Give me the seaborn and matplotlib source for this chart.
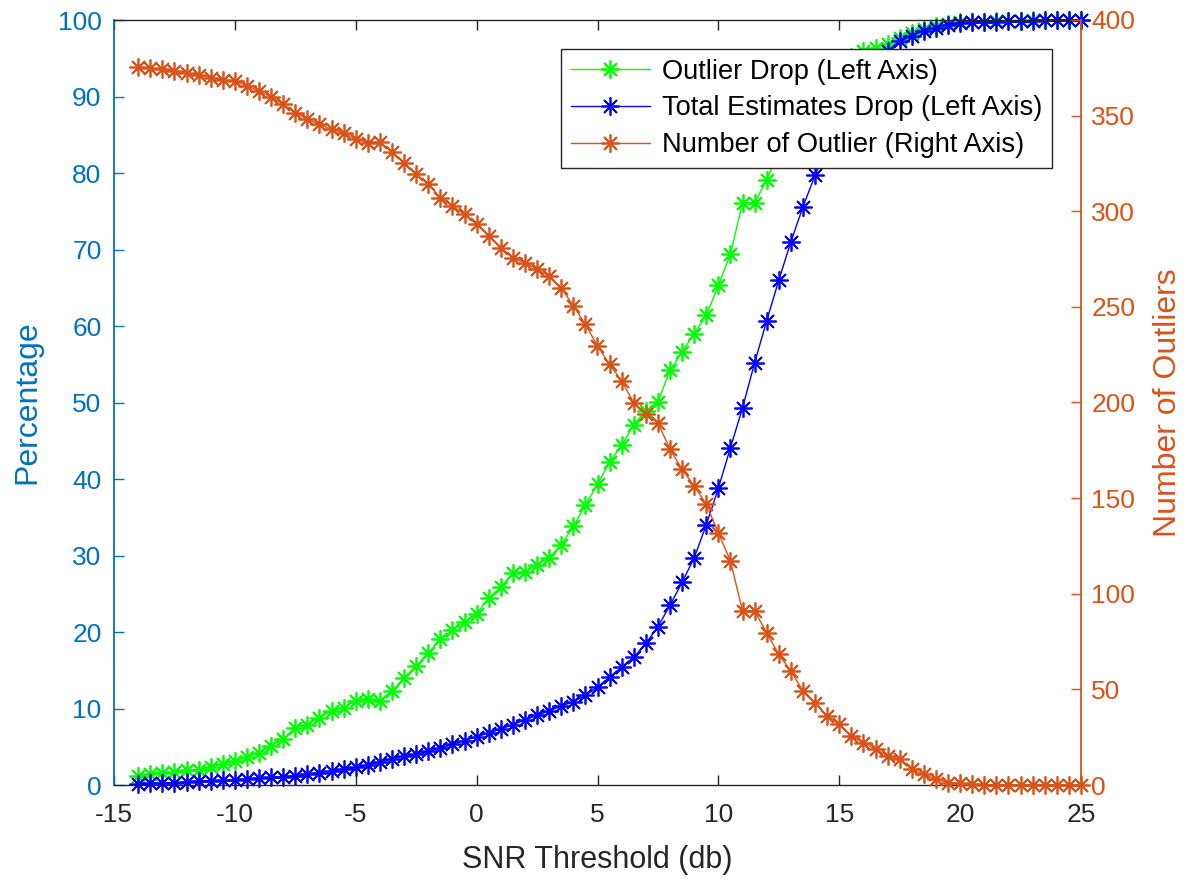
import matplotlib
matplotlib.use("Agg")
import matplotlib.pyplot as plt
import pandas as pd
import seaborn as sns

# ---------------- data ----------------
snr = [-14, -13.5, -13, -12.5, -12, -11.5, -11, -10.5, -10, -9.5,
       -9, -8.5, -8, -7.5, -7, -6.5, -6, -5.5, -5, -4.5,
       -4, -3.5, -3, -2.5, -2, -1.5, -1, -0.5, 0, 0.5,
       1, 1.5, 2, 2.5, 3, 3.5, 4, 4.5, 5, 5.5,
       6, 6.5, 7, 7.5, 8, 8.5, 9, 9.5, 10, 10.5,
       11, 11.5, 12, 12.5, 13, 13.5, 14, 14.5, 15, 15.5,
       16, 16.5, 17, 17.5, 18, 18.5, 19, 19.5, 20, 20.5,
       21, 21.5, 22, 22.5, 23, 23.5, 24, 24.5, 25]

outlier_drop = [1.2, 1.5, 1.6, 1.7, 1.9, 2.0, 2.4, 2.7, 3.1, 3.7,
                4.2, 5.1, 6.0, 7.5, 7.9, 8.8, 9.7, 10.1, 11.0, 11.3,
                11.0, 12.3, 14.0, 15.6, 17.2, 19.1, 20.2, 21.3, 22.4, 24.4,
                25.9, 27.7, 27.9, 28.8, 29.7, 31.4, 33.8, 36.6, 39.3, 42.2,
                44.4, 47.1, 48.9, 50.1, 54.2, 56.6, 59.0, 61.4, 65.3, 69.4,
                76.1, 76.1, 79.1, 83.0, 86.5, 89.5, 91.5, 93.0, 94.2, 95.2,
                95.9, 96.4, 96.9, 97.6, 98.3, 98.8, 99.2, 99.5, 99.7, 99.8,
                99.8, 99.9, 99.9, 99.9, 100.0, 100.0, 100.0, 100.0, 100.0]

total_drop = [0.1, 0.2, 0.2, 0.3, 0.4, 0.5, 0.5, 0.6, 0.7, 0.8,
              0.9, 1.0, 1.1, 1.2, 1.4, 1.6, 1.8, 2.1, 2.3, 2.6,
              3.0, 3.4, 3.8, 4.0, 4.4, 4.8, 5.3, 5.8, 6.3, 6.8,
              7.3, 7.9, 8.5, 9.1, 9.7, 10.3, 10.9, 11.7, 12.8, 14.1,
              15.4, 16.7, 18.5, 20.7, 23.5, 26.5, 29.7, 34.0, 38.8, 44.1,
              49.3, 55.2, 60.7, 66.0, 71.0, 75.6, 79.7, 83.5, 87.0, 90.0,
              92.5, 94.5, 96.0, 97.2, 97.9, 98.6, 99.0, 99.4, 99.6, 99.7,
              99.8, 99.8, 99.9, 99.9, 99.9, 100.0, 100.0, 100.0, 100.0]

num_outliers = [375.4, 374.7, 374.2, 373.3, 372.1, 371.0, 369.8, 368.6, 368.1, 365.5,
                362.9, 359.7, 355.9, 351.5, 348.1, 345.4, 342.8, 341.1, 337.6, 335.8,
                336.2, 331.0, 325.4, 319.3, 314.1, 307.1, 302.7, 298.4, 293.2, 287.1,
                280.9, 275.7, 273.1, 269.6, 266.1, 260.0, 250.5, 240.9, 229.5, 220.0,
                211.2, 199.9, 193.8, 189.4, 175.5, 165.1, 156.3, 146.8, 131.9, 117.1,
                91.0, 91.0, 79.6, 68.3, 59.6, 49.2, 43.0, 36.1, 31.7, 25.6,
                22.1, 18.7, 15.2, 13.4, 8.2, 5.6, 3.0, 1.2, 0.8, 0.4,
                0.2, 0.0, 0.0, 0.0, 0.0, 0.0, 0.0, 0.0, 0.0]

series_labels = ["Outlier Drop (Left Axis)",
                 "Total Estimates Drop (Left Axis)",
                 "Number of Outlier (Right Axis)"]
x_ticks = [-15, -10, -5, 0, 5, 10, 15, 20, 25]
left_ticks = [0, 10, 20, 30, 40, 50, 60, 70, 80, 90, 100]
right_ticks = [0, 50, 100, 150, 200, 250, 300, 350, 400]

# ---------------- style ----------------
sns.set_style("white")
plt.rcParams["font.family"] = ["Liberation Sans", "DejaVu Sans"]
plt.rcParams["axes.unicode_minus"] = False

C_GREEN = "#00FF00"
C_BLUE = "#0000FF"
C_LEFT = "#0072BD"
C_RIGHT = "#D95319"
C_AX = "#262626"

df = pd.DataFrame({"snr": snr, "outlier_drop": outlier_drop,
                   "total_drop": total_drop, "num_outliers": num_outliers})

fig = plt.figure(figsize=(11.96, 8.8), dpi=100)
ax = fig.add_axes([114 / 1196, 95 / 880, 967 / 1196, 765 / 880])
ax2 = ax.twinx()

star = (8, 2, 0)
common = dict(marker=star, markersize=13, markeredgewidth=1.25,
              linewidth=1.0, clip_on=False, errorbar=None, legend=False)

sns.lineplot(data=df, x="snr", y="outlier_drop", ax=ax, color=C_GREEN,
             markeredgecolor=C_GREEN, **common)
sns.lineplot(data=df, x="snr", y="total_drop", ax=ax, color=C_BLUE,
             markeredgecolor=C_BLUE, **common)
sns.lineplot(data=df, x="snr", y="num_outliers", ax=ax2, color=C_RIGHT,
             markeredgecolor=C_RIGHT, **common)

ax.set_xlim(-15, 25)
ax.set_ylim(0, 100)
ax2.set_ylim(0, 400)
ax.set_xticks(x_ticks)
ax.set_yticks(left_ticks)
ax2.set_yticks(right_ticks)

# spines
for s in ("top", "bottom"):
    ax.spines[s].set_color(C_AX)
    ax.spines[s].set_linewidth(1.0)
ax.spines["left"].set_color(C_LEFT)
ax.spines["left"].set_linewidth(1.3)
ax.spines["right"].set_visible(False)
for s in ("left", "top", "bottom"):
    ax2.spines[s].set_visible(False)
ax2.spines["right"].set_visible(True)
ax2.spines["right"].set_color(C_RIGHT)
ax2.spines["right"].set_linewidth(1.3)

# ticks
ax.tick_params(axis="x", which="both", direction="in", length=7, width=1.0,
               colors=C_AX, labelsize=19, pad=13, bottom=True, top=True,
               labeltop=False)
ax.tick_params(axis="y", direction="in", length=7, width=1.0, colors=C_LEFT,
               labelsize=19, pad=9, left=True, right=False)
ax2.tick_params(axis="y", direction="in", length=7, width=1.0, colors=C_RIGHT,
                labelsize=19, pad=7.5, right=True, left=False)

# labels
ax.set_xlabel("SNR Threshold (db)", fontsize=22, color=C_AX)
ax.set_ylabel("Percentage", fontsize=23, color=C_LEFT)
ax2.set_ylabel("Number of Outliers", fontsize=23, color=C_RIGHT)
ax.xaxis.set_label_coords(0.5, -0.0785)
ax.yaxis.set_label_coords(-0.074, 0.5)
ax2.yaxis.set_label_coords(1.0745, 0.5)

# legend
handles = [ax.lines[0], ax.lines[1], ax2.lines[0]]
leg = ax2.legend(handles, series_labels, loc="upper right",
                 bbox_to_anchor=(0.970, 0.962), borderaxespad=0,
                 fontsize=19.6, frameon=True, fancybox=False, framealpha=1,
                 edgecolor=C_AX, borderpad=0.35, labelspacing=0.4,
                 handlelength=2.9, handletextpad=0.45)
leg.get_frame().set_linewidth(1.0)
for t in leg.get_texts():
    t.set_color("black")
leg.set_zorder(10)

fig.savefig("out.png", dpi=100)
